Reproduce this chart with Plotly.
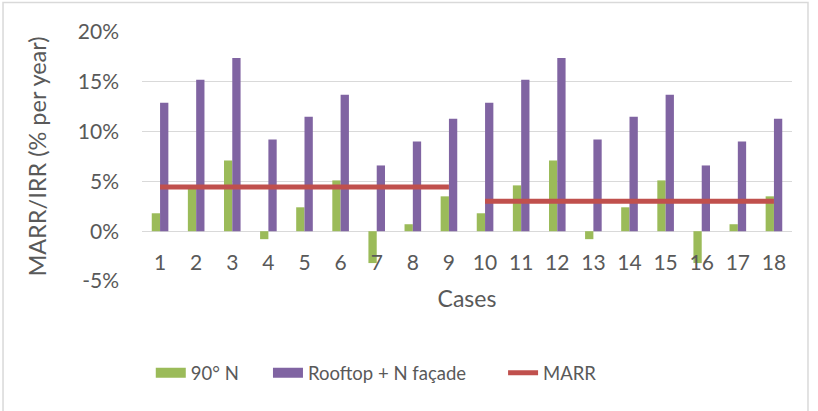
import plotly.graph_objects as go

cases = [str(i) for i in range(1, 19)]
north_90 = [1.8, 4.3, 7.1, -0.8, 2.4, 5.1, -3.2, 0.7, 3.5,
            1.8, 4.6, 7.1, -0.8, 2.4, 5.1, -3.2, 0.7, 3.5]
rooftop_n = [12.9, 15.2, 17.4, 9.2, 11.5, 13.7, 6.6, 9.0, 11.3,
             12.9, 15.2, 17.4, 9.2, 11.5, 13.7, 6.6, 9.0, 11.3]
marr_a_cases = cases[:9]
marr_a = [4.45] * 9
marr_b_cases = cases[9:]
marr_b = [3.0] * 9
y_ticks = [-5, 0, 5, 10, 15, 20]
y_labels = ["-5%", "0%", "5%", "10%", "15%", "20%"]

GREEN = "#9BBB59"
PURPLE = "#8064A2"
RED = "#C0504D"
TXT = "#595959"
GRID = "#D9D9D9"
FONT = "Lato, Carlito, Calibri, sans-serif"

fig = go.Figure()
fig.add_trace(go.Bar(x=cases, y=north_90, name="90° N", marker_color=GREEN,
                     marker_line_width=0, legendgroup="g", showlegend=False))
fig.add_trace(go.Bar(x=cases, y=rooftop_n, name="Rooftop + N façade", marker_color=PURPLE,
                     marker_line_width=0, legendgroup="p", showlegend=False))
fig.add_trace(go.Scatter(x=marr_a_cases, y=marr_a, mode="lines", name="MARR",
                         line=dict(color=RED, width=5), legendgroup="m", showlegend=False))
fig.add_trace(go.Scatter(x=marr_b_cases, y=marr_b, mode="lines", name="MARR",
                         line=dict(color=RED, width=5), legendgroup="m", showlegend=False))
# legend entries (one legend per entry to reproduce spacing)
fig.add_trace(go.Scatter(x=[None], y=[None], mode="lines", name="90° N",
                         line=dict(color=GREEN, width=14), legendgroup="g", legend="legend"))
fig.add_trace(go.Scatter(x=[None], y=[None], mode="lines", name="Rooftop + N façade",
                         line=dict(color=PURPLE, width=14), legendgroup="p", legend="legend2"))
fig.add_trace(go.Scatter(x=[None], y=[None], mode="lines", name="MARR",
                         line=dict(color=RED, width=5), legendgroup="m", legend="legend3"))

leg_common = dict(orientation="h", xanchor="left", y=-0.37, yanchor="middle",
                  font=dict(size=18.5, color=TXT), bgcolor="rgba(0,0,0,0)")

fig.update_layout(
    width=818, height=411,
    margin=dict(l=142, r=26, t=32, b=130),
    paper_bgcolor="white", plot_bgcolor="white",
    font=dict(family=FONT, color=TXT, size=18),
    barmode="group", bargap=0.54, bargroupgap=0,
    showlegend=True,
    legend=dict(x=0.0135, **leg_common),
    legend2=dict(x=0.1938, **leg_common),
    legend3=dict(x=0.5555, **leg_common),
    xaxis=dict(type="category", anchor="free", position=0.2, automargin=False,
               showgrid=False, showline=False, zeroline=False,
               ticks="outside", ticklen=13, tickcolor="rgba(0,0,0,0)",
               tickfont=dict(size=21, color=TXT),
               title=dict(text="Cases", font=dict(size=23, color=TXT), standoff=17)),
    yaxis=dict(range=[-5, 20], tickvals=y_ticks, ticktext=y_labels, automargin=False,
               showgrid=True, gridcolor=GRID, gridwidth=1,
               zeroline=True, zerolinecolor=GRID, zerolinewidth=1,
               showline=False, ticks="",
               ticklabelstandoff=22,
               tickfont=dict(size=21, color=TXT),
               title=dict(text="MARR/IRR (% per year)", font=dict(size=23.5, color=TXT),
                          standoff=24)),
    shapes=[dict(type="rect", xref="paper", yref="paper",
                 x0=-0.2138, x1=1.0246, y0=-0.7, y1=1.1187,
                 line=dict(color=GRID, width=1.5), fillcolor="rgba(0,0,0,0)", layer="below")],
)

fig.write_html("out.html", config={"displayModeBar": False},
               post_script="document.body.style.margin='0';")
